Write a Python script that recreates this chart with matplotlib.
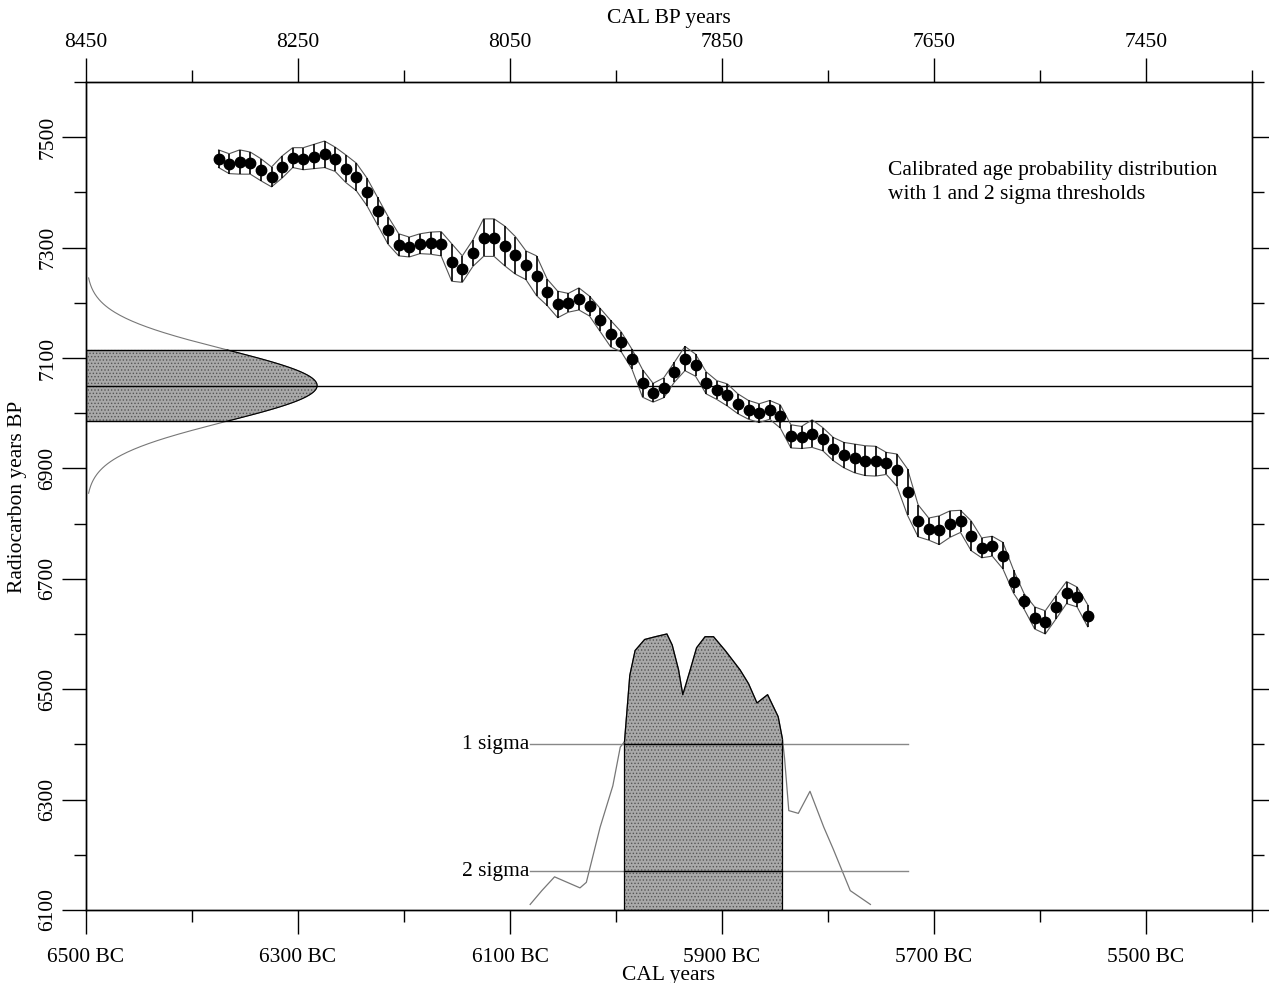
import numpy as np
import matplotlib
matplotlib.use("Agg")
import matplotlib.pyplot as plt

plt.rcParams['font.family'] = ['Liberation Serif', 'DejaVu Serif']
plt.rcParams['hatch.linewidth'] = 0.6

# calibration curve, 10-year steps (cal BC) with radiocarbon age and 1 sigma
cal_bc = list(range(6375, 5554, -10))
c14_bp = [7461, 7452, 7455, 7453, 7441, 7428, 7446, 7463, 7461, 7465,
          7469, 7460, 7443, 7428, 7401, 7366, 7331, 7305, 7301, 7307,
          7308, 7307, 7273, 7261, 7290, 7318, 7318, 7303, 7286, 7268,
          7249, 7219, 7197, 7200, 7207, 7194, 7169, 7144, 7129, 7098,
          7054, 7037, 7046, 7074, 7099, 7087, 7055, 7042, 7033, 7017,
          7006, 7000, 7006, 6994, 6958, 6956, 6963, 6953, 6935, 6924,
          6918, 6914, 6913, 6909, 6897, 6857, 6805, 6790, 6788, 6799,
          6804, 6778, 6756, 6759, 6742, 6695, 6659, 6629, 6621, 6648,
          6675, 6667, 6633]
c14_err = [16, 18, 22, 20, 20, 18, 20, 18, 20, 22,
           24, 22, 25, 25, 25, 25, 25, 20, 18, 18,
           20, 22, 34, 24, 24, 34, 34, 36, 34, 26,
           36, 24, 24, 17, 20, 18, 21, 24, 18, 18,
           25, 17, 18, 18, 22, 20, 20, 17, 20, 18,
           17, 17, 17, 21, 21, 20, 25, 21, 21, 23,
           26, 27, 27, 20, 29, 42, 29, 20, 26, 24,
           20, 27, 18, 18, 24, 21, 14, 20, 21, 21,
           20, 18, 20]

# measured radiocarbon date
date_bp = 7050
date_sd = 65

# calibrated probability (relative to peak)
dist_bc = [6081, 6070, 6058, 6046, 6034, 6028, 6015, 6003, 5996, 5992,
           5987, 5982, 5973, 5963, 5952, 5947, 5941, 5937, 5930, 5924,
           5916, 5908, 5897, 5883, 5875, 5867, 5857, 5847, 5843, 5841,
           5837, 5828, 5817, 5804, 5795, 5779, 5760]
dist_p = [0.02, 0.07, 0.12, 0.10, 0.08, 0.10, 0.30, 0.45, 0.59, 0.61,
          0.85, 0.94, 0.98, 0.99, 1.00, 0.96, 0.87, 0.78, 0.87, 0.95,
          0.99, 0.99, 0.94, 0.87, 0.82, 0.75, 0.78, 0.70, 0.62, 0.55,
          0.36, 0.35, 0.43, 0.30, 0.22, 0.07, 0.02]
range_1s = (5992, 5843)
level_1s = 0.60
level_2s = 0.14
thr_span = (6081, 5725)

x_major = [6500, 6300, 6100, 5900, 5700, 5500]
x_minor = [6400, 6200, 6000, 5800, 5600, 5400]
bp_major = [8450, 8250, 8050, 7850, 7650, 7450]
bp_minor = [8350, 8150, 7950, 7750, 7550, 7350]
y_major = [6100, 6300, 6500, 6700, 6900, 7100, 7300, 7500]
y_minor = [6200, 6400, 6600, 6800, 7000, 7200, 7400, 7600]

FS = 15.5
MAJ, MIN = 17, 8.5
shade = dict(facecolor='#a9a9a9', hatch='.....', edgecolor='#555555', linewidth=0)

fig = plt.figure(figsize=(12.69, 9.83), dpi=100)
ax = fig.add_axes([0.0678, 0.0743, 0.9188, 0.8423])
ax.set_xlim(6500, 5400)
ax.set_ylim(6100, 7600)

# radiocarbon date as a normal curve on the left axis
base_y = 6100
peak_w = 218
gy = np.linspace(date_bp - 3 * date_sd, date_bp + 3 * date_sd, 300)
gx = 6500 - peak_w * np.exp(-0.5 * ((gy - date_bp) / date_sd) ** 2)
ax.plot(gx, gy, color='#777777', lw=0.8)
inner = (gy >= date_bp - date_sd) & (gy <= date_bp + date_sd)
ax.fill_betweenx(gy[inner], 6500, gx[inner], **shade)
ax.plot(gx[inner], gy[inner], color='black', lw=0.8)
for yv in (date_bp - date_sd, date_bp, date_bp + date_sd):
    ax.axhline(yv, color='black', lw=1.0)

# calibration curve ribbon
cb = np.array(cal_bc)
cy = np.array(c14_bp)
ce = np.array(c14_err)
ax.plot(cb, cy + ce, color='#555555', lw=0.8)
ax.plot(cb, cy - ce, color='#555555', lw=0.8)
ax.vlines(cb, cy - ce, cy + ce, color='black', lw=1.2)
ax.plot(cb, cy, 'o', color='black', ms=7.5)

# calibrated distribution along the bottom
dist_h = 500
db = np.array(dist_bc)
dy = base_y + dist_h * np.array(dist_p)
ax.plot(db, dy, color='#777777', lw=0.9)
sel = (db <= range_1s[0]) & (db >= range_1s[1])
ax.fill_between(db[sel], base_y, dy[sel], **shade)
ax.plot(db[sel], dy[sel], color='black', lw=0.9)
ax.vlines(range_1s, base_y, [dy[db == r][0] for r in range_1s], color='black', lw=0.9)

for lvl, name in ((level_1s, '1 sigma'), (level_2s, '2 sigma')):
    yv = base_y + dist_h * lvl
    ax.plot(thr_span, [yv, yv], color='#888888', lw=1.0)
    ax.plot(range_1s, [yv, yv], color='black', lw=1.0)
    ax.text(thr_span[0] + 1, yv, name, ha='right', va='center', fontsize=FS)

ax.text(0.688, 0.905, 'Calibrated age probability distribution\nwith 1 and 2 sigma thresholds',
        transform=ax.transAxes, ha='left', va='top', fontsize=FS, linespacing=1.4)

# axes and ticks
ax.set_xticks(x_major)
ax.set_xticklabels([f'{v} BC' for v in x_major])
ax.set_xticks(x_minor, minor=True)
ax.set_yticks(y_major)
ax.set_yticks(y_minor, minor=True)
ax.tick_params(which='both', direction='out', width=1.0, labelsize=FS,
               left=True, right=True, bottom=True, top=False)
ax.tick_params(which='major', length=MAJ)
ax.tick_params(which='minor', length=MIN)
ax.tick_params(axis='x', pad=10.5)
ax.tick_params(axis='y', pad=3.5, labelrotation=90)
for lbl in ax.get_yticklabels():
    lbl.set_va('center')

top = ax.twiny()
top.set_xlim(8450, 7350)
top.set_xticks(bp_major)
top.set_xticks(bp_minor, minor=True)
top.tick_params(which='both', direction='out', width=1.0, labelsize=FS, pad=4.5)
top.tick_params(which='major', length=MAJ)
top.tick_params(which='minor', length=MIN)

for a in (ax, top):
    for s in a.spines.values():
        s.set_linewidth(1.0)

fig.text(0.527, 0.981, 'CAL BP years', ha='center', va='center', fontsize=FS)
fig.text(0.527, 0.008, 'CAL years', ha='center', va='center', fontsize=FS)
fig.text(0.014, 0.495, 'Radiocarbon years BP', ha='center', va='center',
         rotation=90, fontsize=FS)

fig.savefig('out.png', dpi=100)
